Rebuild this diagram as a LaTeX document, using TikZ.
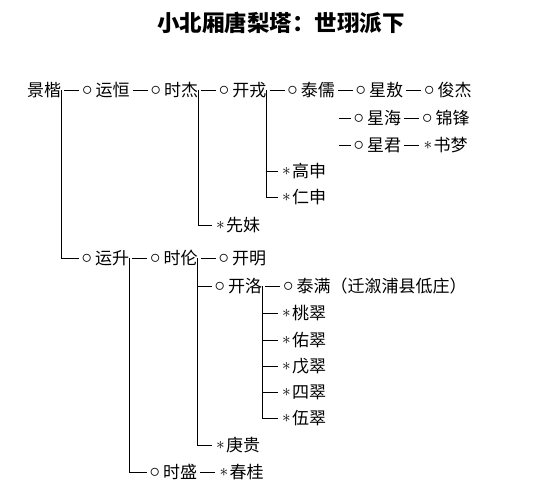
\documentclass[tikz,border=0pt]{standalone}
\usepackage{fontspec}
\newfontfamily\cjk{Noto Sans CJK SC}
\usetikzlibrary{positioning}

\newcommand{\ringmark}{\makebox[15pt][l]{\hspace{1.5pt}\raisebox{1pt}{\fontsize{22}{22}\selectfont$\circ$}}}
\newcommand{\starmark}{\makebox[13pt][l]{\hspace{3pt}\raisebox{2pt}{$\ast$}}}

\begin{document}
\begin{tikzpicture}[
        x=1pt, y=-1pt,
        node distance=19pt,
        person/.style={inner sep=0pt, anchor=west, text height=13pt, text depth=0pt, font=\cjk\fontsize{17}{17}\selectfont},
        link/.style={line width=0.8pt, shorten <=3pt, shorten >=1pt},
        branch/.style={line width=0.8pt, shorten >=1pt}
    ]
    \useasboundingbox (0,0) rectangle (553,503);

    % Title
    \node[font=\cjk\bfseries\fontsize{22.5}{22.5}\selectfont] (title) at (281,23) {小北厢唐梨塔：世珝派下};

    % First line
    \node[person] (A) at (27,90) {景楷};
    \node[person, right=of A] (B) {\ringmark 运恒};
    \node[person, right=of B] (C) {\ringmark 时杰};
    \node[person, right=of C] (D) {\ringmark 开戎};
    \node[person, right=of D] (E) {\ringmark 泰儒};
    \node[person, right=of E] (F) {\ringmark 星敖};
    \node[person, right=of F] (G) {\ringmark 俊杰};

    % Sons of Tairu
    \node[person] (H) at (352,118) {\ringmark 星海};
    \node[person, right=of H] (I) {\ringmark 锦锋};
    \node[person] (J) at (352,145) {\ringmark 星君};
    \node[person, right=of J] (K) {\starmark 书梦};

    \node[person] (L) at (279,171) {\starmark 高申};
    \node[person] (M) at (279,197) {\starmark 仁申};
    \node[person] (N) at (213,225) {\starmark 先妹};

    % Second branch
    \node[person] (O) at (80,258) {\ringmark 运升};
    \node[person, right=of O] (P) {\ringmark 时伦};
    \node[person, right=of P] (Q) {\ringmark 开明};
    \node[person] (R) at (213,286) {\ringmark 开洛};
    \node[person, right=of R] (S) {\ringmark 泰满（迁溆浦县低庄）};
    \node[person] (T) at (279,313) {\starmark 桃翠};
    \node[person] (U) at (279,340) {\starmark 佑翠};
    \node[person] (V) at (279,366) {\starmark 戊翠};
    \node[person] (W) at (279,392) {\starmark 四翠};
    \node[person] (X) at (279,418) {\starmark 伍翠};
    \node[person] (Y) at (213,445) {\starmark 庚贵};
    \node[person] (Z) at (148,472) {\ringmark 时盛};
    \node[person, right=of Z] (AA) {\starmark 春桂};

    % Same-line links
    \draw[link] (A) -- (B);
    \draw[link] (B) -- (C);
    \draw[link] (C) -- (D);
    \draw[link] (D) -- (E);
    \draw[link] (E) -- (F);
    \draw[link] (F) -- (G);
    \draw[link] (H) -- (I);
    \draw[link] (J) -- (K);
    \draw[link] (O) -- (P);
    \draw[link] (P) -- (Q);
    \draw[link] (R) -- (S);
    \draw[link] (Z) -- (AA);
    \draw[link, shorten <=4pt] (E.east |- H.west) -- (H);
    \draw[link, shorten <=4pt] (E.east |- J.west) -- (J);

    % Branches
    \draw[branch] (A.east) |- (O.west);
    \draw[branch] (C.east) |- (N.west);
    \draw[branch] (D.east) |- (L.west);
    \draw[branch] (D.east) |- (M.west);
    \draw[branch] (O.east) |- (Z.west);
    \draw[branch] (P.east) |- (R.west);
    \draw[branch] (P.east) |- (Y.west);
    \draw[branch] (R.east) |- (T.west);
    \draw[branch] (R.east) |- (U.west);
    \draw[branch] (R.east) |- (V.west);
    \draw[branch] (R.east) |- (W.west);
    \draw[branch] (R.east) |- (X.west);

\end{tikzpicture}
\end{document}
